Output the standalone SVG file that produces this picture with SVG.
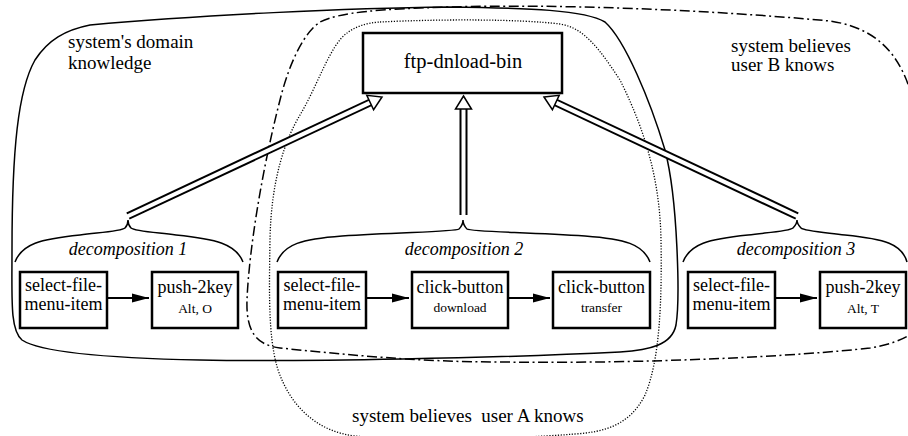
<svg xmlns="http://www.w3.org/2000/svg" width="908" height="436" viewBox="0 0 908 436">
<defs>
<style>
.region{fill:none;stroke:#000;stroke-width:1.5}
.dd{stroke-dasharray:10 3.5 2 3.5}
.dot{stroke-dasharray:1.2 1.6;stroke-width:1.3}
.box{fill:#fff;stroke:#000;stroke-width:2.5}
text{font-family:'Liberation Serif','Times New Roman','DejaVu Serif',serif;fill:#000}
.lbl{font-size:19px}
.t{font-size:18px;text-anchor:middle}
.s{font-size:13.5px;text-anchor:middle}
.dec{font-size:18px;font-style:italic;text-anchor:middle}
.brace{fill:none;stroke:#000;stroke-width:1.5}
.shaftB{fill:none;stroke:#000;stroke-width:8}
.shaftW{fill:none;stroke:#fff;stroke-width:4}
.head{fill:#fff;stroke:#000;stroke-width:1.5;stroke-linejoin:miter}
.seq{fill:none;stroke:#000;stroke-width:2}
</style>
<marker id="ah" markerUnits="userSpaceOnUse" markerWidth="18" markerHeight="10" refX="17" refY="5" orient="auto">
<path d="M0,0.5 L17,5 L0,9.5 Z" fill="#000"/>
</marker>
</defs>
<rect width="908" height="436" fill="#fff"/>

<g id="regions">
<path id="domain" class="region" d="M90,25 C200,15 350,8 448,7 C530,8 585,10 605,22 C625,40 650,100 665,150 C678,200 680,300 676,325 C672,345 650,350 620,352 C500,358 300,362 200,360 C100,358 40,352 22,340 C10,330 12,300 12,250 C12,150 18,90 35,60 C48,40 65,30 90,25 Z"/>
<path id="userB" class="region dd" d="M920,140 C912,70 890,30 830,21 C700,9 550,4 450,7 C380,9 340,12 320,22 C305,32 290,60 280,100 C262,170 249,250 247,300 C246,330 255,345 280,348 C350,355 420,362 500,362 C650,364 800,356 870,348 C895,344 912,336 920,326"/>
<path id="userA" class="region dot" d="M380,22 C440,19 520,19 560,24 C585,28 600,50 620,80 C645,130 660,180 661,240 C662,300 660,360 645,395 C630,425 605,432 575,434 C500,440 400,440 355,436 C320,432 295,410 282,380 C268,350 269,300 270,240 C271,180 285,140 300,115 C318,85 330,45 347,33 C355,27 365,23 380,22 Z"/>
</g>

<g id="region-labels">
<text class="lbl" x="68" y="48">system's domain</text>
<text class="lbl" x="68" y="69">knowledge</text>
<text class="lbl" x="731" y="52">system believes</text>
<text class="lbl" x="731" y="71">user B knows</text>
<text class="lbl" x="352" y="422" xml:space="preserve" style="white-space:pre">system believes  user A knows</text>
</g>

<g id="ftp-dnload-bin">
<rect class="box" x="363" y="33" width="199" height="60"/>
<text class="t" x="463" y="68" style="font-size:20.5px">ftp-dnload-bin</text>
</g>

<g id="braces">
<path class="brace" d="M15,262 C22,244 40,239 80,235 C105,232 122,231 125,228 C127,226 128,223 128,220 C128,223 129,226 131,228 C134,231 151,232 176,235 C216,239 236,244 243,262"/>
<text class="dec" x="128" y="255">decomposition 1</text>
<path class="brace" d="M277,262 C284,244 302,239 342,236 C400,232 455,232 459,229 C461,227 463,224 463,220 C463,224 465,227 467,229 C471,232 526,232 585,236 C625,239 643,244 650,262"/>
<text class="dec" x="464" y="255">decomposition 2</text>
<path class="brace" d="M683,262 C690,244 708,239 748,235 C773,232 790,231 793,228 C795,226 797,223 797,220 C797,223 799,226 801,228 C804,231 820,232 845,235 C885,239 902,244 907,262"/>
<text class="dec" x="796" y="255">decomposition 3</text>
</g>

<g id="connectors">
<path class="shaftB" d="M128,216 L370.2,102.5"/>
<path class="shaftW" d="M126,217 L371,102.1"/>
<polygon class="head" points="382,97 373.6,109.7 366.8,95.3"/>
<path class="shaftB" d="M463.5,215 L463.5,109"/>
<path class="shaftW" d="M463.5,217 L463.5,108"/>
<polygon class="head" points="463.5,96 471.5,109 455.5,109"/>
<path class="shaftB" d="M797,216 L555.8,102.5"/>
<path class="shaftW" d="M799,217 L555,102.1"/>
<polygon class="head" points="544,97 559.2,95.3 552.4,109.7"/>
<line class="seq" x1="107" y1="298" x2="149" y2="298" marker-end="url(#ah)"/>
<line class="seq" x1="366" y1="298" x2="409" y2="298" marker-end="url(#ah)"/>
<line class="seq" x1="508" y1="298" x2="550" y2="298" marker-end="url(#ah)"/>
<line class="seq" x1="775" y1="298" x2="817" y2="298" marker-end="url(#ah)"/>
</g>

<g id="d1-select">
<rect class="box" x="20" y="272" width="87" height="56"/>
<text class="t" x="63.5" y="291">select-file-</text>
<text class="t" x="63.5" y="310">menu-item</text>
</g>
<g id="d1-push">
<rect class="box" x="152" y="272" width="86" height="56"/>
<text class="t" x="195" y="293">push-2key</text>
<text class="s" x="195" y="313">Alt, O</text>
</g>
<g id="d2-select">
<rect class="box" x="278" y="272" width="88" height="56"/>
<text class="t" x="322" y="291">select-file-</text>
<text class="t" x="322" y="310">menu-item</text>
</g>
<g id="d2-click-download">
<rect class="box" x="412" y="272" width="96" height="56"/>
<text class="t" x="460" y="293">click-button</text>
<text class="s" x="460" y="312">download</text>
</g>
<g id="d2-click-transfer">
<rect class="box" x="553" y="272" width="97" height="56"/>
<text class="t" x="601.5" y="293">click-button</text>
<text class="s" x="601.5" y="312">transfer</text>
</g>
<g id="d3-select">
<rect class="box" x="688" y="272" width="87" height="56"/>
<text class="t" x="731.5" y="291">select-file-</text>
<text class="t" x="731.5" y="310">menu-item</text>
</g>
<g id="d3-push">
<rect class="box" x="820" y="272" width="86" height="56"/>
<text class="t" x="863" y="293">push-2key</text>
<text class="s" x="863" y="313">Alt, T</text>
</g>
</svg>
